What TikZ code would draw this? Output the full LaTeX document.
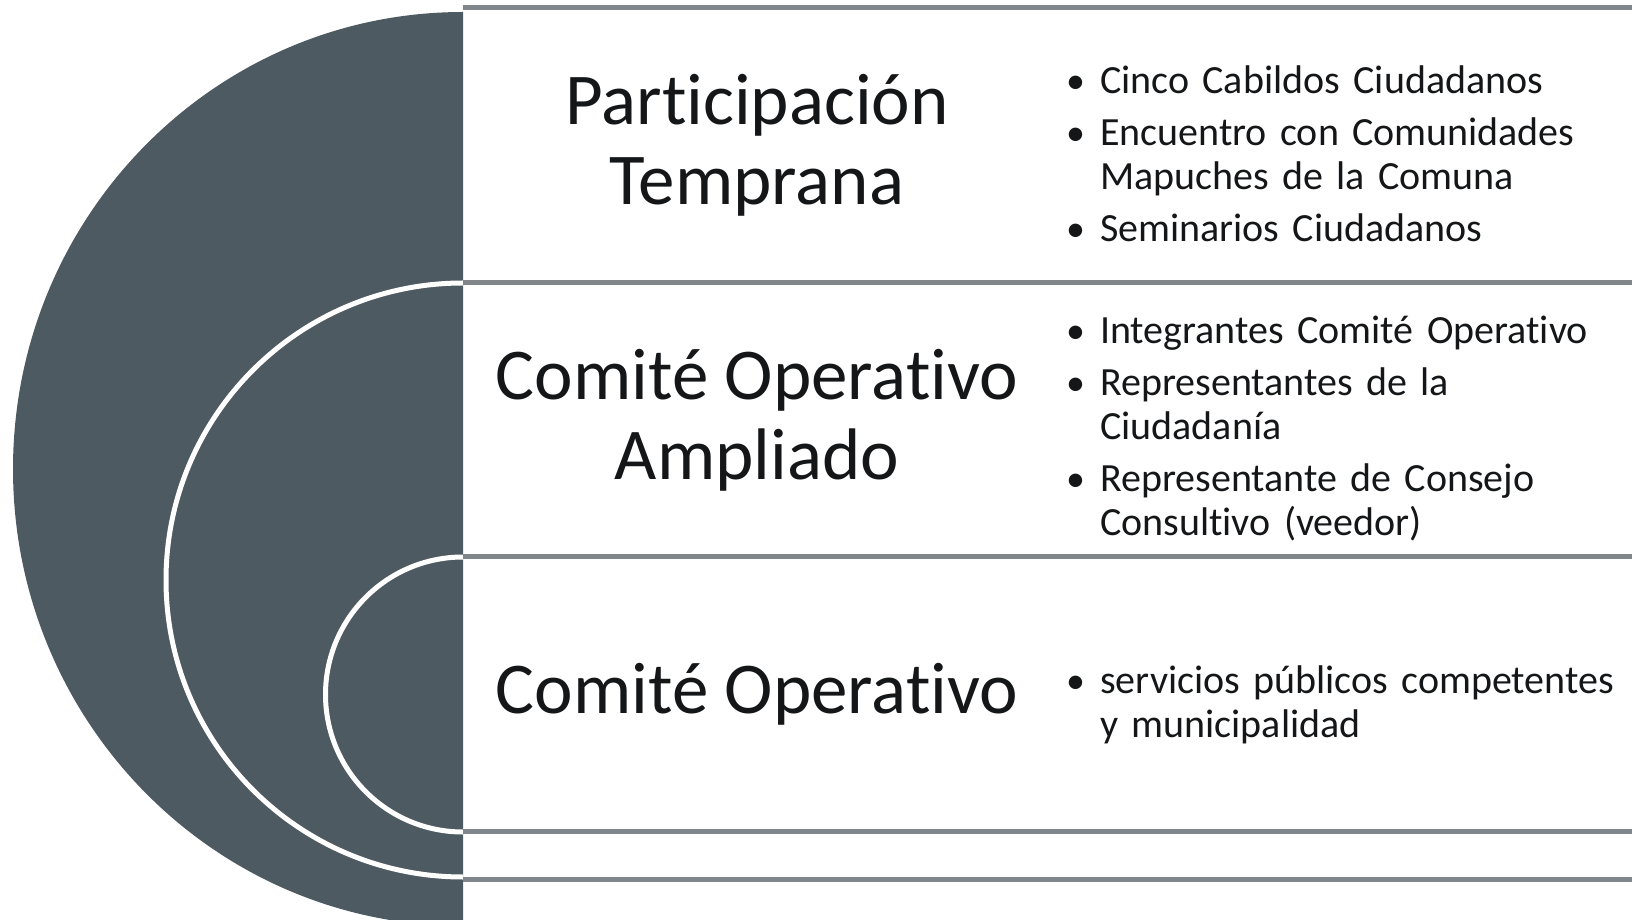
\documentclass[tikz,border=0pt]{standalone}
\usepackage{fontspec}
\setmainfont{Carlito}[Ligatures=NoCommon]
\definecolor{slate}{RGB}{78,90,97}
\definecolor{rulegray}{RGB}{128,134,138}
\definecolor{ink}{RGB}{20,22,24}
\newcommand{\bul}{\par\hangindent=34pt\hangafter=1\noindent\makebox[34pt][l]{\scalebox{0.95}{\textbullet}}}

\begin{document}
\begin{tikzpicture}
   [x=1pt,y=1pt,
    title/.style={align=center,text=ink,inner sep=0pt,font=\fontsize{73}{80}\selectfont},
    items/.style={anchor=west,align=left,text width=570pt,text=ink,inner sep=0pt,
                  font=\fontsize{40}{44}\selectfont\setlength{\parskip}{8pt}}]
  \useasboundingbox (0,0) rectangle (1632,919);
  \clip (0,0) rectangle (1632,919);

  % nested half discs
  \fill[slate] (463,907) arc[start angle=90,end angle=270,x radius=450,y radius=457] -- cycle;
  \draw[white,line width=5pt] (463,636) arc[start angle=90,end angle=270,radius=297];
  \draw[white,line width=5pt] (463,362) arc[start angle=90,end angle=270,radius=137.5];

  \foreach \y in {911,636,362,88,40}
    \draw[rulegray,line width=5pt] (463,\y) -- (1640,\y);

  \node[title] (t1) at (757,774) {Participación\\Temprana};
  \node[title] (t2) at (757,499) {Comité Operativo\\Ampliado};
  \node[title] (t3) at (757,225) {Comité Operativo};

  \node[items] (l1) at (1066,777) {\bul Cinco Cabildos Ciudadanos
    \bul Encuentro con Comunidades\newline Mapuches de la Comuna
    \bul Seminarios Ciudadanos\par};
  \node[items] (l2) at (1066,503) {\bul Integrantes Comité Operativo
    \bul Representantes de la\newline Ciudadanía
    \bul Representante de Consejo\newline Consultivo (veedor)\par};
  \node[items] (l3) at (1066,226) {\bul servicios públicos competentes\newline y municipalidad\par};

\end{tikzpicture}
\end{document}
